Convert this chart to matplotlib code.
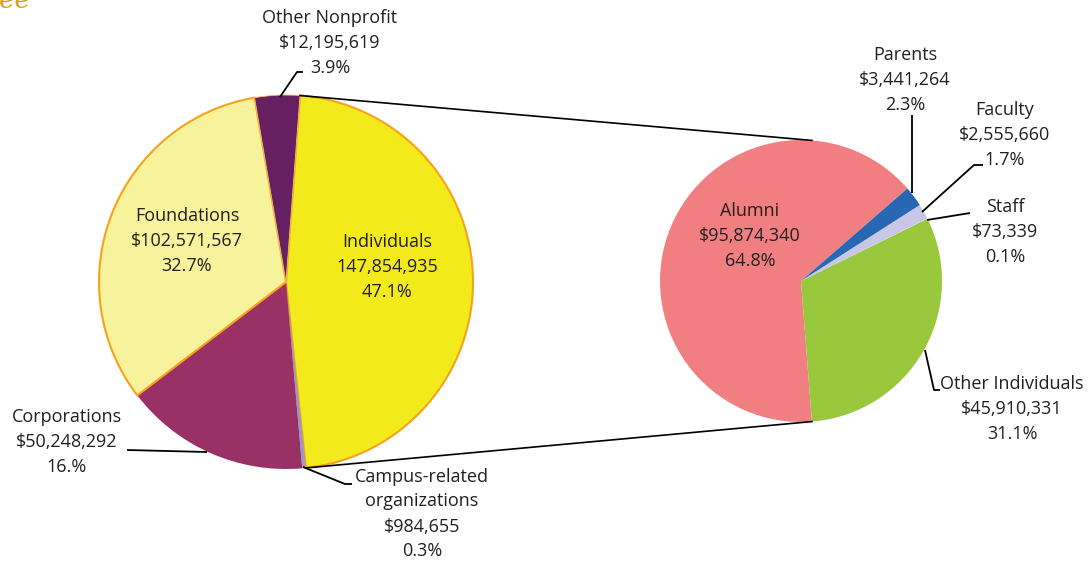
import matplotlib.pyplot as plt
import numpy as np

plt.rcParams['font.family'] = ['Open Sans', 'DejaVu Sans']

# Main pie: sources of gifts (clockwise from the top)
main_labels = ['Individuals', 'Campus-related\norganizations', 'Corporations', 'Foundations', 'Other Nonprofit']
main_values = [147854935, 984655, 50248292, 102571567, 12195619]
main_amounts = ['147,854,935', '$984,655', '$50,248,292', '$102,571,567', '$12,195,619']
main_pcts = ['47.1%', '0.3%', '16.%', '32.7%', '3.9%']
main_colors = ['#F2EA1B', '#9B97C9', '#9A3166', '#F7F39D', '#661F60']

# Breakdown of Individuals (counterclockwise from Alumni)
sub_labels = ['Alumni', 'Other Individuals', 'Staff', 'Faculty', 'Parents']
sub_values = [95874340, 45910331, 73339, 2555660, 3441264]
sub_amounts = ['$95,874,340', '$45,910,331', '$73,339', '$2,555,660', '$3,441,264']
sub_pcts = ['64.8%', '31.1%', '0.1%', '1.7%', '2.3%']
sub_colors = ['#F17F82', '#9AC83D', '#C9C7E6', '#C9C7E6', '#2867B3']

W, H = 1092, 564
fig = plt.figure(figsize=(W / 100, H / 100), dpi=100)
ax = fig.add_axes([0, 0, 1, 1])

def Y(y):
    return H - y

c1, r1 = (286, Y(282)), 187
c2, r2 = (801, Y(281)), 141

w1, _ = ax.pie(main_values, colors=main_colors, startangle=85.7, counterclock=False,
               center=c1, radius=r1, frame=True,
               wedgeprops=dict(linewidth=0))
for i in (0, 3):
    w1[i].set_edgecolor('#F7A21B')
    w1[i].set_linewidth(1.5)
w1[4].set_edgecolor('#F7C26A')
w1[4].set_linewidth(0.6)

w2, _ = ax.pie(sub_values, colors=sub_colors, startangle=41, counterclock=True,
               center=c2, radius=r2, frame=True,
               wedgeprops=dict(linewidth=0))
ax.set_xlim(0, W)
ax.set_ylim(0, H)
ax.set_aspect('equal')
ax.axis('off')

# connector lines from Individuals wedge to the breakdown pie
def pt(c, r, ang):
    a = np.radians(ang)
    return c[0] + r * np.cos(a), c[1] + r * np.sin(a)

ind = w1[0]
bot_ang = w2[0].theta2
top_ang = 90 - (bot_ang - 270)
p_a = pt(c1, r1, ind.theta2)
p_b = pt(c1, r1, ind.theta1)
q_a = pt(c2, r2, top_ang)
q_b = pt(c2, r2, bot_ang)
ax.plot([p_a[0], q_a[0]], [p_a[1], q_a[1]], color='black', lw=1.2)
ax.plot([p_b[0], q_b[0]], [p_b[1], q_b[1]], color='black', lw=1.2)

fs = 13
tc = '#231F20'

def label(x, y, lines, ha='center'):
    ax.text(x, Y(y), '\n'.join(lines), ha=ha, va='center', fontsize=fs, color=tc,
            linespacing=1.5)

def leader(pts):
    xs = [p[0] for p in pts]
    ys = [Y(p[1]) for p in pts]
    ax.plot(xs, ys, color='black', lw=1.3, solid_capstyle='butt')

# cut-off title fragment at the top left (only its bottom edge is visible)
ax.text(-1, Y(8), 'ee', ha='left', va='baseline', fontsize=20, color='#D6A329',
        family='DejaVu Serif', style='italic')

# main pie labels
label(330, 43, ['Other Nonprofit', main_amounts[4], main_pcts[4]])
leader([(303, 72), (297, 72), (280, 97)])
label(187, 241, ['Foundations', main_amounts[3], main_pcts[3]])
label(387, 267, ['Individuals', main_amounts[0], main_pcts[0]])
label(67, 442, ['Corporations', main_amounts[2], main_pcts[2]])
leader([(127, 450), (207, 452)])
label(422, 514, main_labels[1].split('\n') + [main_amounts[1], main_pcts[1]])
leader([(303, 467), (345, 484), (352, 484)])

# breakdown labels
label(750, 236, ['Alumni', sub_amounts[0], sub_pcts[0]])
label(905, 80, ['Parents', sub_amounts[4], sub_pcts[4]])
leader([(912, 115), (912, 193)])
label(1005, 135, ['Faculty', sub_amounts[3], sub_pcts[3]])
leader([(983, 165), (974, 165), (922, 212)])
label(1005, 232, ['Staff', sub_amounts[2], sub_pcts[2]])
leader([(927, 220), (970, 213)])
label(1012, 409, ['Other Individuals', sub_amounts[1], sub_pcts[1]])
leader([(925, 350), (934, 390), (940, 390)])

fig.savefig('out.png', dpi=100)
